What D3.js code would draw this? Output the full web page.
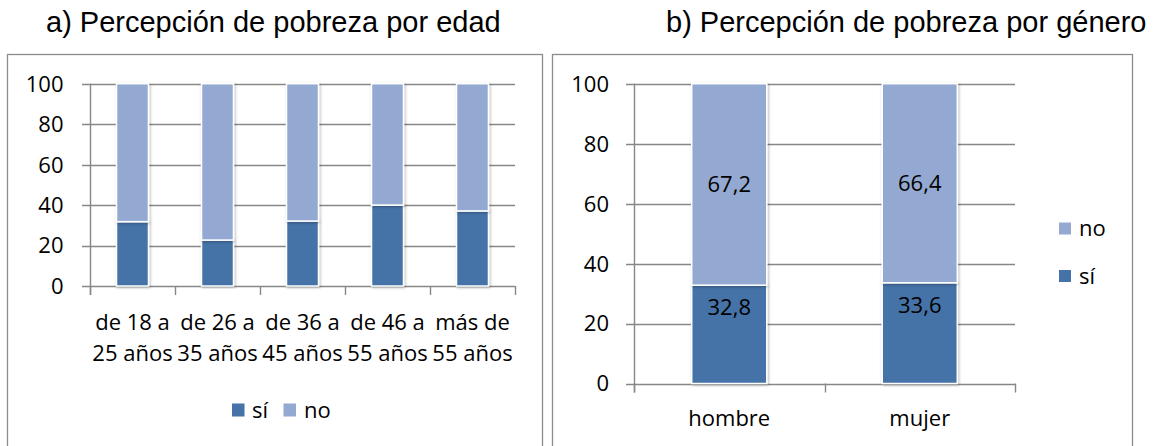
<!DOCTYPE html>
<html>
<head>
<meta charset="utf-8">
<script src="https://cdn.jsdelivr.net/npm/d3@7"></script>
<style>
  body { margin: 0; background: #fff; }
  svg text { font-family: "Open Sans", sans-serif; fill: #000; }
  .title { font-family: "Liberation Sans", Arial, sans-serif; font-size: 29px; }
</style>
</head>
<body>
<script>
  // Data
  var ageLabels = [["de 18 a", "25 años"], ["de 26 a", "35 años"], ["de 36 a", "45 años"], ["de 46 a", "55 años"], ["más de", "55 años"]];
  var ageSi = [31.8, 22.7, 32.1, 40.0, 37.1];
  var ageNo = [68.2, 77.3, 67.9, 60.0, 62.9];

  var genderLabels = ["hombre", "mujer"];
  var genderSi = [32.8, 33.6];
  var genderNo = [67.2, 66.4];

  var yTicks = [0, 20, 40, 60, 80, 100];
  var seriesNames = ["sí", "no"];
  var colors = {"sí": "#4572A7", "no": "#94A9D1"};

  var gridColor = "#878787";

  var svg = d3.select("body")
    .append("svg")
    .attr("width", 1161)
    .attr("height", 446);

  // soft shadow like the office chart bars
  var defs = svg.append("defs");
  defs.append("filter")
    .attr("id", "shadow")
    .attr("x", "-20%").attr("y", "-5%").attr("width", "140%").attr("height", "110%")
    .append("feDropShadow")
    .attr("dx", 1).attr("dy", 1)
    .attr("stdDeviation", 1.8)
    .attr("flood-color", "#000")
    .attr("flood-opacity", 0.3);

  // titles
  svg.append("text").attr("class", "title")
    .attr("x", 46).attr("y", 31.5)
    .text("a) Percepción de pobreza por edad");
  svg.append("text").attr("class", "title")
    .attr("x", 666).attr("y", 31.5)
    .text("b) Percepción de pobreza por género");

  // frames
  svg.append("rect")
    .attr("x", 7.5).attr("y", 54.5).attr("width", 535).attr("height", 420)
    .attr("fill", "none").attr("stroke", "#8c8c8c").attr("stroke-width", 1.3);
  svg.append("rect")
    .attr("x", 552.5).attr("y", 54.5).attr("width", 580).attr("height", 420)
    .attr("fill", "none").attr("stroke", "#8c8c8c").attr("stroke-width", 1.3);

  function makeRows(cats, si, no) {
    return cats.map(function(c, i) { return {cat: i, "sí": si[i], "no": no[i]}; });
  }

  function drawChart(opts) {
    var g = svg.append("g");

    var x = d3.scaleBand()
      .domain(d3.range(opts.rows.length))
      .range([opts.x0, opts.x1])
      .paddingInner(opts.pad)
      .paddingOuter(opts.pad / 2);

    var y = d3.scaleLinear()
      .domain([0, 100])
      .range([opts.y0, opts.y1]);

    // gridlines
    g.selectAll(".grid")
      .data(yTicks)
      .enter().append("line")
      .attr("x1", opts.x0 - 8).attr("x2", opts.x1)
      .attr("y1", function(d) { return Math.round(y(d)) + 0.5; })
      .attr("y2", function(d) { return Math.round(y(d)) + 0.5; })
      .attr("stroke", gridColor)
      .attr("stroke-width", 1.4);

    // y axis line
    g.append("line")
      .attr("x1", opts.x0 + 0.5).attr("x2", opts.x0 + 0.5)
      .attr("y1", y(100)).attr("y2", y(0) + 9)
      .attr("stroke", gridColor).attr("stroke-width", 1.4);

    // x tick marks at band edges
    var edges = d3.range(opts.rows.length + 1).map(function(i) { return opts.x0 + i * x.step(); });
    g.selectAll(".xtick")
      .data(edges)
      .enter().append("line")
      .attr("x1", function(d) { return Math.round(d) + 0.5; })
      .attr("x2", function(d) { return Math.round(d) + 0.5; })
      .attr("y1", y(0)).attr("y2", y(0) + 9)
      .attr("stroke", gridColor).attr("stroke-width", 1.4);

    // y tick labels
    g.selectAll(".ylab")
      .data(yTicks)
      .enter().append("text")
      .attr("x", opts.yLabelX)
      .attr("y", function(d) { return y(d); })
      .attr("dy", "0.36em")
      .attr("text-anchor", "end")
      .style("font-size", "22px")
      .text(function(d) { return d; });

    // stacked bars
    var stacked = d3.stack().keys(seriesNames)(opts.rows);

    var layers = g.selectAll(".layer")
      .data(stacked)
      .enter().append("g")
      .attr("fill", function(d) { return colors[d.key]; });

    layers.selectAll("rect")
      .data(function(d) { return d; })
      .enter().append("rect")
      .attr("x", function(d) { return x(d.data.cat); })
      .attr("width", x.bandwidth())
      .attr("y", function(d) { return y(d[1]); })
      .attr("height", function(d) { return y(d[0]) - y(d[1]); })
      .attr("stroke", "#fff")
      .attr("stroke-width", 1.5)
      .attr("filter", "url(#shadow)");

    // value labels (only chart b)
    if (opts.showValues) {
      stacked.forEach(function(layer) {
        g.selectAll(".val-" + layer.key)
          .data(layer)
          .enter().append("text")
          .attr("x", function(d) { return x(d.data.cat) + x.bandwidth() / 2; })
          .attr("y", function(d) {
            if (layer.key == "no") return (y(d[0]) + y(d[1])) / 2;
            return y(d[1]) + 22;
          })
          .attr("dy", "0.36em")
          .attr("text-anchor", "middle")
          .style("font-size", "22px")
          .text(function(d) { return d3.format(".1f")(d[1] - d[0]).replace(".", ","); });
      });
    }

    // category labels
    g.selectAll(".xlab")
      .data(opts.labels)
      .enter().append("text")
      .attr("text-anchor", "middle")
      .style("font-size", "22px")
      .attr("x", function(d, i) { return x(i) + x.bandwidth() / 2; })
      .attr("y", opts.labelY)
      .each(function(d) {
        var lines = Array.isArray(d) ? d : [d];
        var t = d3.select(this);
        lines.forEach(function(line, k) {
          t.append("tspan")
            .attr("x", t.attr("x"))
            .attr("dy", k == 0 ? "0.36em" : 31.6)
            .text(line);
        });
      });

    return g;
  }

  drawChart({
    rows: makeRows(ageLabels, ageSi, ageNo),
    labels: ageLabels,
    x0: 90, x1: 515, y0: 286, y1: 83.7,
    pad: 0.624,
    yLabelX: 63.5,
    labelY: 321.7,
    showValues: false
  });

  drawChart({
    rows: makeRows(genderLabels, genderSi, genderNo),
    labels: genderLabels,
    x0: 634, x1: 1015, y0: 383.5, y1: 83.7,
    pad: 0.606,
    yLabelX: 609,
    labelY: 418.3,
    showValues: true
  });

  // legend a) horizontal under the chart
  var legA = svg.append("g");
  var legAPos = [{x: 232, tx: 252}, {x: 283.5, tx: 304}];
  seriesNames.forEach(function(s, i) {
    legA.append("rect")
      .attr("x", legAPos[i].x).attr("y", 403.5)
      .attr("width", 12.5).attr("height", 13)
      .attr("fill", colors[s]);
    legA.append("text")
      .attr("x", legAPos[i].tx).attr("y", 410)
      .attr("dy", "0.36em")
      .style("font-size", "22px")
      .text(s);
  });

  // legend b) vertical, "no" on top
  var legB = svg.append("g");
  var legBOrder = ["no", "sí"];
  var legBY = [228.5, 276];
  legBOrder.forEach(function(s, i) {
    legB.append("rect")
      .attr("x", 1059).attr("y", legBY[i] - 6)
      .attr("width", 12).attr("height", 12)
      .attr("fill", colors[s]);
    legB.append("text")
      .attr("x", 1079).attr("y", legBY[i])
      .attr("dy", "0.36em")
      .style("font-size", "22px")
      .text(s);
  });
</script>
</body>
</html>
